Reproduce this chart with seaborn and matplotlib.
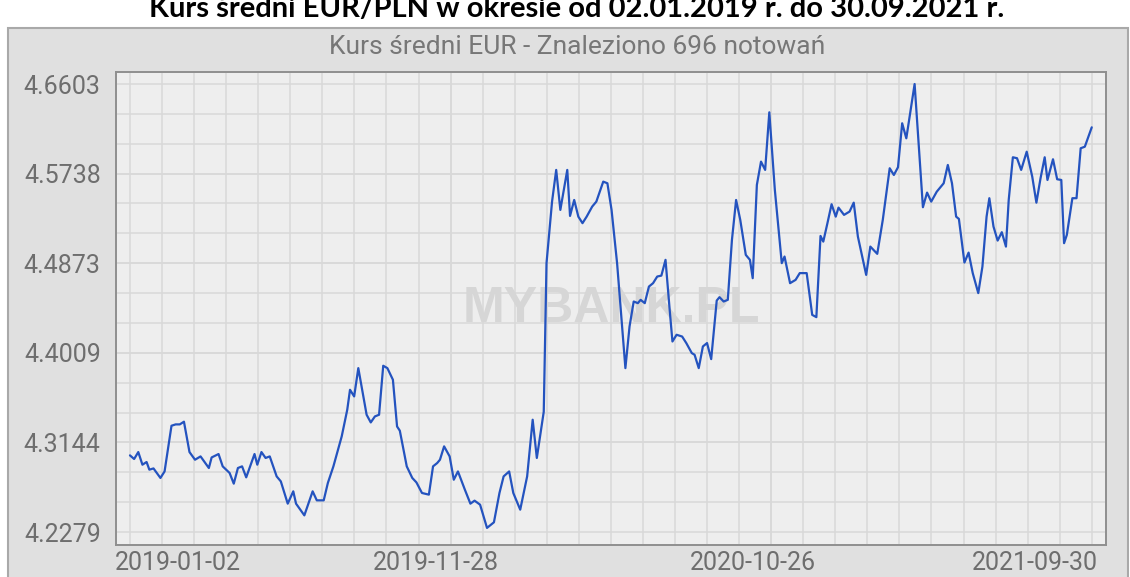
import matplotlib
matplotlib.use("Agg")
import matplotlib.pyplot as plt
from matplotlib.patches import Rectangle
from matplotlib.ticker import FixedLocator
from matplotlib.transforms import ScaledTranslation
import pandas as pd
import seaborn as sns

# numer notowania (0..695) i kurs sredni EUR/PLN
notowanie = [
    0, 3, 6, 9, 12, 14, 17, 22, 25, 30,
    33, 36, 39, 43, 47, 51, 57, 59, 64, 67,
    72, 75, 78, 81, 84, 90, 92, 95, 98, 101,
    106, 109, 114, 118, 120, 126, 132, 135, 140, 143,
    147, 153, 157, 159, 162, 165, 171, 174, 177, 180,
    183, 186, 190, 193, 195, 200, 204, 207, 211, 216,
    219, 222, 224, 227, 231, 234, 237, 242, 246, 249,
    253, 258, 263, 267, 270, 274, 277, 282, 287, 291,
    294, 299, 301, 305, 308, 311, 316, 318, 321, 324,
    327, 330, 334, 337, 342, 345, 348, 352, 358, 361,
    364, 367, 369, 372, 375, 378, 381, 384, 387, 390,
    392, 395, 399, 402, 406, 408, 411, 414, 417, 420,
    424, 426, 429, 432, 435, 438, 441, 445, 448, 450,
    453, 456, 459, 462, 466, 471, 473, 477, 481, 484,
    489, 493, 496, 499, 501, 504, 507, 510, 512, 516,
    520, 523, 526, 532, 535, 540, 544, 549, 552, 555,
    558, 561, 567, 573, 576, 579, 583, 588, 591, 594,
    597, 599, 603, 606, 609, 613, 616, 619, 621, 624,
    627, 630, 633, 635, 638, 641, 644, 648, 652, 655,
    658, 661, 663, 667, 670, 673, 675, 677, 681, 684,
    687, 690, 695,
]
kurs = [
    4.3019, 4.2984, 4.3051, 4.2929, 4.2955, 4.2881, 4.2893, 4.2801, 4.2864, 4.3305,
    4.3318, 4.3318, 4.3344, 4.3051, 4.2977, 4.3009, 4.2897, 4.2999, 4.3032, 4.2913,
    4.2849, 4.2746, 4.2897, 4.2913, 4.2807, 4.3032, 4.2929, 4.3051, 4.2994, 4.3009,
    4.2816, 4.2768, 4.2553, 4.2672, 4.2553, 4.2440, 4.2672, 4.2585, 4.2585, 4.2753,
    4.2913, 4.3202, 4.3459, 4.3652, 4.3588, 4.3861, 4.3411, 4.3337, 4.3395, 4.3411,
    4.3884, 4.3861, 4.3749, 4.3298, 4.3257, 4.2913, 4.2801, 4.2758, 4.2656, 4.2640,
    4.2913, 4.2945, 4.2977, 4.3106, 4.3009, 4.2784, 4.2864, 4.2688, 4.2553, 4.2582,
    4.2543, 4.2319, 4.2373, 4.2656, 4.2816, 4.2864, 4.2656, 4.2495, 4.2816, 4.3363,
    4.2994, 4.3440, 4.4874, 4.5468, 4.5774, 4.5388, 4.5774, 4.5330, 4.5484, 4.5323,
    4.5260, 4.5323, 4.5420, 4.5468, 4.5661, 4.5645, 4.5388, 4.4874, 4.3861, 4.4263,
    4.4504, 4.4488, 4.4520, 4.4488, 4.4648, 4.4681, 4.4745, 4.4754, 4.4906, 4.4424,
    4.4118, 4.4183, 4.4166, 4.4103, 4.4006, 4.3990, 4.3861, 4.4070, 4.4103, 4.3948,
    4.4513, 4.4546, 4.4504, 4.4520, 4.5099, 4.5484, 4.5292, 4.4954, 4.4906, 4.4729,
    4.5629, 4.5854, 4.5774, 4.6330, 4.5581, 4.4874, 4.4938, 4.4681, 4.4713, 4.4778,
    4.4778, 4.4375, 4.4353, 4.5137, 4.5082, 4.5260, 4.5443, 4.5323, 4.5410, 4.5340,
    4.5372, 4.5458, 4.5131, 4.4761, 4.5034, 4.4964, 4.5292, 4.5790, 4.5725, 4.5800,
    4.6224, 4.6079, 4.6603, 4.5414, 4.5555, 4.5468, 4.5564, 4.5645, 4.5822, 4.5645,
    4.5323, 4.5301, 4.4880, 4.4976, 4.4778, 4.4585, 4.4841, 4.5323, 4.5501, 4.5227,
    4.5092, 4.5173, 4.5034, 4.5484, 4.5896, 4.5887, 4.5774, 4.5950, 4.5709, 4.5458,
    4.5694, 4.5896, 4.5677, 4.5877, 4.5684, 4.5677, 4.5067, 4.5147, 4.5501, 4.5501,
    4.5983, 4.5998, 4.6185,
]

x_ticks = [0, 232, 463, 695]
x_labels = ["2019-01-02", "2019-11-28", "2020-10-26", "2021-09-30"]
y_ticks = [4.2279, 4.3144, 4.4009, 4.4873, 4.5738, 4.6603]

df = pd.DataFrame({"notowanie": notowanie, "kurs": kurs})

sns.set_style("white")
plt.rcParams["font.family"] = ["Roboto", "DejaVu Sans"]

fig = plt.figure(figsize=(11.3, 5.77), dpi=100)

# szare tlo ramki wykresu (pod osiami)
fig.patches.append(Rectangle((8 / 1130, -0.05), 1120 / 1130, 1.05 - 28 / 577,
                             transform=fig.transFigure, facecolor="#e0e0e0",
                             edgecolor="#a9a9a9", linewidth=1.5, zorder=-10))

ax = fig.add_axes([116 / 1130, 1 - 545 / 577, 990 / 1130, 473 / 577])
ax.set_zorder(1)
ax.set_facecolor("#eeeeee")

sns.lineplot(data=df, x="notowanie", y="kurs", ax=ax, color="#2453bf",
             linewidth=1.6, estimator=None, zorder=3)

ax.set_xlim(-10.1, 705.3)
ax.set_ylim(4.2154, 4.6719)

# siatka co 1/10 odstepu miedzy datami i co 1/3 odstepu na osi Y
ax.xaxis.set_minor_locator(FixedLocator([695 * k / 30 for k in range(31)]))
ax.yaxis.set_minor_locator(FixedLocator([4.2279 + 0.4324 * k / 15 for k in range(16)]))
ax.set_xticks(x_ticks)
ax.set_xticklabels(x_labels)
ax.set_yticks(y_ticks)
ax.set_yticklabels([f"{v:.4f}" for v in y_ticks])
ax.grid(True, which="both", color="#d8d8d8", linewidth=1.1)
ax.set_axisbelow(True)

ax.tick_params(axis="both", which="major", direction="in", length=4.5, width=1,
               color="#888888", labelcolor="#6e6e6e", labelsize=18)
ax.tick_params(axis="x", which="major", pad=4)
ax.tick_params(axis="y", which="major", pad=11)
ax.tick_params(which="minor", length=0)
ax.set_xlabel("")
ax.set_ylabel("")
for s in ax.spines.values():
    s.set_color("#8f8f8f")
    s.set_linewidth(1.4)

# przesuniecie etykiet dat jak na oryginale
offsets_px = [48, -15, -18, -57]
for lbl, dx in zip(ax.get_xticklabels(), offsets_px):
    lbl.set_transform(lbl.get_transform() + ScaledTranslation(dx / 100, 0, fig.dpi_scale_trans))

ax.text(0.5, 0.5, "MYBANK.PL", transform=ax.transAxes, ha="center", va="center",
        fontsize=36, fontweight="bold", color="#d6d6d6", family="Liberation Sans", zorder=2)

fig.text(577 / 1130, 1 - 47 / 577, "Kurs średni EUR - Znaleziono 696 notowań",
         ha="center", va="center", fontsize=19, color="#777777")
fig.text(577 / 1130, 1 - 17 / 577,
         "Kurs średni EUR/PLN w okresie od 02.01.2019 r. do 30.09.2021 r.",
         ha="center", va="baseline", fontsize=21, fontweight="bold", color="black",
         family=["Lato", "DejaVu Sans"])

fig.savefig("out.png", dpi=100)
